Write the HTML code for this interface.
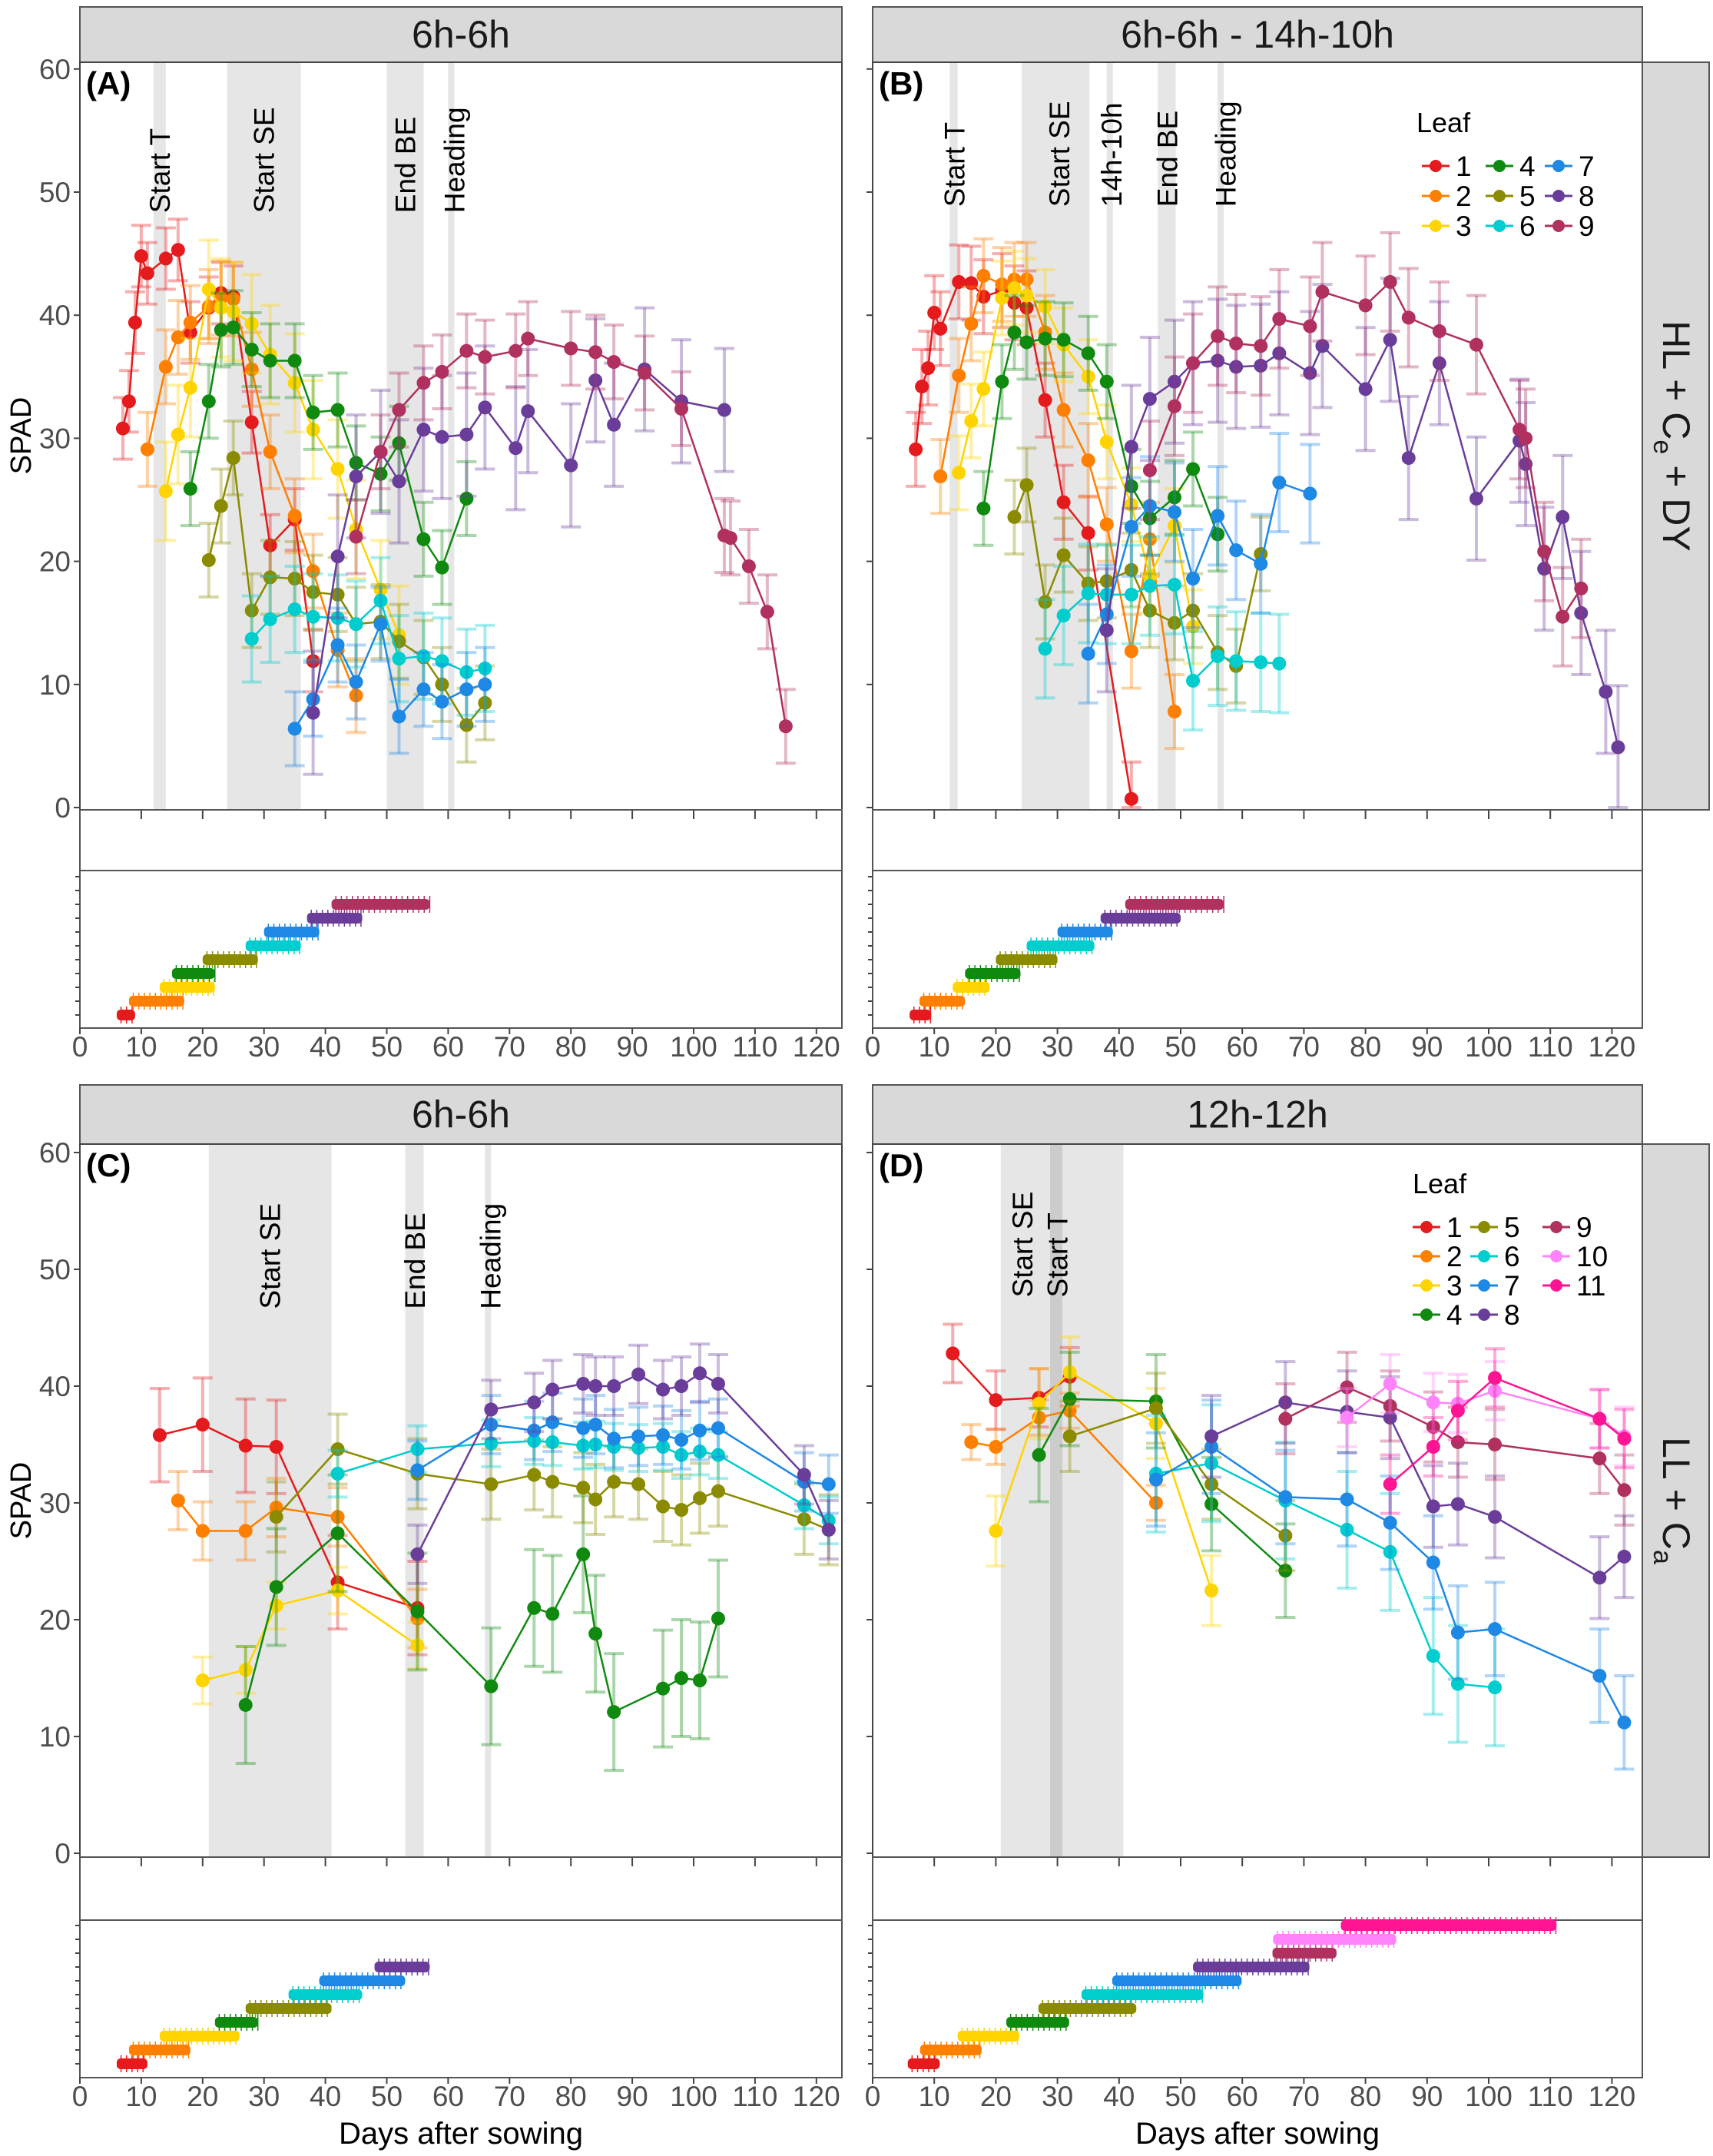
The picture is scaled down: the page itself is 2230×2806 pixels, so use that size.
<!DOCTYPE html>
<html><head><meta charset="utf-8"><style>
html,body{margin:0;padding:0;background:#fff;}
svg{display:block;font-family:"Liberation Sans",sans-serif;}
</style></head><body>
<svg id="chart" width="2230" height="2806" viewBox="0 0 2230 2806" xmlns="http://www.w3.org/2000/svg"></svg>
<script>
// ---------- DATA ----------
const aDays = [
 [7,8,9,10,11,14,16,18,21,23,25,28,31,35,38],
 [11,14,16,18,21,23,25,28,31,35,38,42,45],
 [14,16,18,21,23,25,28,31,35,38,42,45,49,52],
 [18,21,23,25,28,31,35,38,42,45,49,52,56,59,63],
 [21,23,25,28,31,35,38,42,45,49,52,56,59,63,66],
 [28,31,35,38,42,45,49,52,56,59,63,66],
 [35,38,42,45,49,52,56,59,63,66],
 [38,42,45,49,52,56,59,63,66,71,73,80,84,87,92,98,105],
 [45,49,52,56,59,63,66,71,73,80,84,87,92,98,105,106,109,112,115]
];
const aVals = [
 [30.8,33,39.4,44.8,43.4,44.6,45.3,38.6,40.6,41.8,41.5,31.3,21.3,23.4,11.9],
 [29.1,35.8,38.2,39.4,40.7,41.4,41.3,35.6,28.9,23.7,19.2,12.8,9.1],
 [25.7,30.3,34.1,42.1,40.6,40.3,39.3,36.8,34.5,30.7,27.5,22.6,17.7,14],
 [25.9,33,38.8,39,37.2,36.3,36.3,32.1,32.3,28,27.1,29.6,21.8,19.5,25.1],
 [20.1,24.5,28.4,16,18.7,18.6,17.5,17.3,14.9,15.1,13.5,12.2,10,6.7,8.5],
 [13.7,15.3,16.1,15.5,15.4,14.9,16.8,12.1,12.3,11.9,11,11.3],
 [6.4,8.8,13.2,10.2,14.9,7.4,9.6,8.6,9.6,10],
 [7.7,20.4,26.9,28.9,26.5,30.7,30.1,30.3,32.5,29.2,32.2,27.8,34.7,31.1,35.6,33,32.3],
 [22,28.9,32.3,34.5,35.4,37.1,36.6,37.1,38.1,37.3,37,36.2,35.3,32.4,22.1,21.9,19.6,15.9,6.6]
];
const aErr = [2.5,3,4,3,3,3.5,3,5,3];

const bDays = [
 [7,8,9,10,11,14,16,18,21,23,25,28,31,35,42],
 [11,14,16,18,21,23,25,28,31,35,38,42,45,49],
 [14,16,18,21,23,25,28,31,35,38,42,45,49,52],
 [18,21,23,25,28,31,35,38,42,45,49,52,56],
 [23,25,28,31,35,38,42,45,49,52,56,59,63],
 [28,31,35,38,42,45,49,52,56,59,63,66],
 [35,38,42,45,49,52,56,59,63,66,71],
 [38,42,45,49,52,56,59,63,66,71,73,80,84,87,92,98,105,106,109,112,115,119,121],
 [45,49,52,56,59,63,66,71,73,80,84,87,92,98,105,106,109,112,115]
];
const bVals = [
 [29.1,34.2,35.7,40.2,38.9,42.7,42.6,41.5,42,41,40.6,33.1,24.8,22.3,0.7],
 [26.9,35.1,39.3,43.2,42.5,42.9,42.9,38.6,32.3,28.2,23,12.7,21.8,7.8],
 [27.2,31.4,34,41.4,42.2,41.6,40.7,37.6,35,29.7,24.6,18.8,22.9,14.7],
 [24.3,34.6,38.6,37.8,38.1,38,36.9,34.6,26.1,23.5,25.2,27.5,22.2],
 [23.6,26.2,16.7,20.5,18.2,18.4,19.3,16,15,16,12.6,11.5,20.6],
 [12.9,15.6,17.4,17.3,17.3,18,18.1,10.3,12.3,11.9,11.8,11.7],
 [12.5,15.7,22.8,24.5,24,18.6,23.7,20.9,19.8,26.4,25.5],
 [14.4,29.3,33.2,34.6,36.1,36.3,35.8,35.9,36.9,35.3,37.5,34,38,28.4,36.1,25.1,29.8,27.9,19.4,23.6,15.8,9.4,4.9],
 [27.4,32.6,36.1,38.3,37.7,37.5,39.7,39.1,41.9,40.8,42.7,39.8,38.7,37.6,30.7,30,20.8,15.5,17.8]
];
const bErr = [3,3,3,3,3,4,4,5,4];

const cDays = [
 [13,20,27,32,42,55],
 [16,20,27,32,42,55],
 [20,27,32,42,55],
 [27,32,42,55,67,74,77,82,84,87,95,98,101,104],
 [32,42,55,67,74,77,82,84,87,91,95,98,101,104,118,122],
 [42,55,67,74,77,82,84,87,91,95,98,101,104,118,122],
 [55,67,74,77,82,84,87,91,95,98,101,104,118,122],
 [55,67,74,77,82,84,87,91,95,98,101,104,118,122]
];
const cVals = [
 [35.8,36.7,34.9,34.8,23.2,21],
 [30.2,27.6,27.6,29.6,28.8,20.1],
 [14.8,15.7,21.2,22.5,17.8],
 [12.7,22.8,27.4,20.7,14.3,21,20.5,25.6,18.8,12.1,14.1,15,14.8,20.1],
 [28.8,34.6,32.5,31.6,32.4,31.8,31.3,30.3,31.8,31.6,29.7,29.4,30.4,31,28.6,27.7],
 [32.5,34.6,35.1,35.3,35.2,34.9,35,34.8,34.7,34.8,34.1,34.4,34.1,29.8,28.5],
 [32.8,36.7,36.2,36.9,36.4,36.7,35.5,35.7,35.8,35.4,36.2,36.4,31.8,31.6],
 [25.6,38,38.6,39.7,40.2,40,40,41,39.7,40,41.1,40.2,32.4,27.7]
];
const cErr = [4,2.5,2,5,3,2,2.5,2.5];

const dDays = [
 [13,20,27,32],
 [16,20,27,32,46],
 [20,27,32,46,55],
 [27,32,46,55,67],
 [32,46,55,67],
 [46,55,67,77,84,91,95,101],
 [46,55,67,77,84,91,95,101,118,122],
 [55,67,77,84,91,95,101,118,122],
 [67,77,84,91,95,101,118,122],
 [77,84,91,95,101,118,122],
 [84,91,95,101,118,122]
];
const dVals = [
 [42.8,38.8,39,40.8],
 [35.2,34.8,37.3,37.9,30],
 [27.6,38.5,41.2,36.8,22.5],
 [34.1,38.9,38.7,29.9,24.2],
 [35.7,38.1,31.6,27.2],
 [32.5,33.4,30.2,27.7,25.8,16.9,14.5,14.2],
 [32,34.8,30.5,30.3,28.3,24.9,18.9,19.2,15.2,11.2],
 [35.7,38.6,37.8,37.3,29.7,29.9,28.8,23.6,25.4],
 [37.2,39.9,38.3,36.5,35.2,35,33.8,31.1],
 [37.3,40.2,38.6,38.5,39.6,37.2,35.7],
 [31.6,34.8,37.9,40.7,37.2,35.5]
];
const dErr = [2.5,1.5,3,4,3,5,4,3.5,3,2.5,2.5];

const aGS = [6,8,13,15,20,27,30,37,41], aGE = [9,17,22,22,29,36,39,46,57];
const bGS = [6,7.6,13,15,20,25,30,37,41], bGE = [9.5,15,19,24,30,36,39,50,57];
const cGS = [6,8,13,22,27,34,39,48], cGE = [11,18,26,29,41,46,53,57];
const dGS = [5.7,7.7,13.8,21.7,26.9,33.9,38.9,52,64.9,65,76], dGE = [10.9,17.7,23.8,31.9,42.8,53.7,59.9,70.9,75.3,85,111];

const aBands = [[12,14],[24,36],[50,56],[60,61]];
const bBands = [[12.5,13.8],[24.2,35.2],[38,39],[46.3,49.2],[56,57]];
const cBands = [[21,41],[53,56],[66,67]];
const dBands = [[20.8,40.7],[28.8,30.8]];
const aLabels = ['Start T','Start SE','End BE','Heading'], aLabelX = [13,30,53,61];
const bLabels = ['Start T','Start SE','14h-10h','End BE','Heading'], bLabelX = [13.3,30.3,38.8,47.8,57.3];
const cLabels = ['Start SE','End BE','Heading'], cLabelX = [31,54.6,66.9];
const dLabels = ['Start SE','Start T'], dLabelX = [24.3,30];
const xTicks = [0,10,20,30,40,50,60,70,80,90,100,110,120];
const yTicks = [0,10,20,30,40,50,60];

// ---------- DRAW ----------
const COLORS = ['#e41a1c','#ff7f00','#ffd400','#0f8a0f','#8b8b00','#00cdcd','#1e88e5','#6a3d9a','#b03060','#ff83fa','#ff1493'];
const svg = document.getElementById('chart');
const NS = 'http://www.w3.org/2000/svg';
function el(tag, attrs, parent, text){
  const e = document.createElementNS(NS, tag);
  for (const k in attrs) e.setAttribute(k, attrs[k]);
  if (text !== undefined) e.textContent = text;
  (parent || svg).appendChild(e);
  return e;
}

const panels = [
 {id:'a', x0:104, x1:1096, ppd:7.99, top:81, bot:1054, y0:1051, ppu:16.02, stripTop:9, title:'6h-6h', tag:'(A)', days:aDays, vals:aVals, err:aErr, gs:aGS, ge:aGE, bands:aBands, labels:aLabels, labelX:aLabelX, labelV:48.3, dark:-1, yLabels:true, emptyBot:1133, ganttBot:1338, row1:1321, tickY:1375},
 {id:'b', x0:1136, x1:2138, ppd:8.02, top:81, bot:1054, y0:1051, ppu:16.02, stripTop:9, title:'6h-6h - 14h-10h', tag:'(B)', days:bDays, vals:bVals, err:bErr, gs:bGS, ge:bGE, bands:bBands, labels:bLabels, labelX:bLabelX, labelV:48.8, dark:-1, yLabels:false, emptyBot:1133, ganttBot:1338, row1:1321, tickY:1375},
 {id:'c', x0:104, x1:1096, ppd:7.99, top:1489, bot:2417, y0:2412, ppu:15.2, stripTop:1412, title:'6h-6h', tag:'(C)', days:cDays, vals:cVals, err:cErr, gs:cGS, ge:cGE, bands:cBands, labels:cLabels, labelX:cLabelX, labelV:46.6, dark:-1, yLabels:true, emptyBot:2499, ganttBot:2704, row1:2686, tickY:2741},
 {id:'d', x0:1136, x1:2138, ppd:8.02, top:1489, bot:2417, y0:2412, ppu:15.2, stripTop:1412, title:'12h-12h', tag:'(D)', days:dDays, vals:dVals, err:dErr, gs:dGS, ge:dGE, bands:dBands, labels:dLabels, labelX:dLabelX, labelV:47.6, dark:1, yLabels:false, emptyBot:2499, ganttBot:2704, row1:2686, tickY:2741}
];

panels.forEach(p => {
  const X = d => p.x0 + d * p.ppd;
  const Y = v => p.y0 - v * p.ppu;
  const g = el('g', {});
  
  
  // strip
  const st = el('rect', {x:p.x0, y:p.stripTop, width:p.x1-p.x0, height:p.top-p.stripTop, fill:'#d9d9d9', stroke:'#555', 'stroke-width':2}, g);
  
  
  const stt = el('text', {x:(p.x0+p.x1)/2, y:(p.stripTop+p.top)/2+17, 'text-anchor':'middle', 'font-size':50, fill:'#1a1a1a'}, g, p.title);
  
  
  // plot bg
  el('rect', {x:p.x0, y:p.top, width:p.x1-p.x0, height:p.bot-p.top, fill:'#fff'}, g);
  // bands
  p.bands.forEach((b, i) => {
    const r = el('rect', {x:X(b[0]), y:p.top, width:X(b[1])-X(b[0]), height:p.bot-p.top, fill: (i===p.dark ? '#cccccc' : '#e6e6e6')}, g);
    
    
  });
  // band labels
  p.labels.forEach((t, i) => {
    const x = X(p.labelX[i]) + 13, y = Y(p.labelV);
    const tx = el('text', {x:x, y:y, transform:'rotate(-90 '+x+' '+y+')', 'font-size':37, fill:'#000'}, g, t);
    
    
  });
  // series
  p.days.forEach((ds, s) => {
    const col = COLORS[s];
    const sg = el('g', {}, g);
    
    
    ds.forEach((d, k) => {
      const v = p.vals[s][k], e = p.err[s];
      const x = X(d);
      el('line', {x1:x, x2:x, y1:Y(v+e), y2:Y(Math.max(0,v-e)), stroke:col, 'stroke-width':4, 'stroke-opacity':0.35}, sg);
      el('line', {x1:x-13, x2:x+13, y1:Y(v+e), y2:Y(v+e), stroke:col, 'stroke-width':4, 'stroke-opacity':0.35}, sg);
      el('line', {x1:x-13, x2:x+13, y1:Y(Math.max(0,v-e)), y2:Y(Math.max(0,v-e)), stroke:col, 'stroke-width':4, 'stroke-opacity':0.35}, sg);
    });
    const pts = ds.map((d, k) => X(d).toFixed(1) + ',' + Y(p.vals[s][k]).toFixed(1)).join(' ');
    const pl = el('polyline', {points:pts, fill:'none', stroke:col, 'stroke-width':2.5}, sg);
    
    
    ds.forEach((d, k) => {
      const c = el('circle', {cx:X(d), cy:Y(p.vals[s][k]), r:9, fill:col}, sg);
      
      
    });
  });
  // border
  el('rect', {x:p.x0, y:p.top, width:p.x1-p.x0, height:p.bot-p.top, fill:'none', stroke:'#444', 'stroke-width':2}, g);
  // tag
  const tg = el('text', {x:p.x0+8, y:p.top+42, 'font-size':42, 'font-weight':'bold', fill:'#000'}, g, p.tag);
  
  
  // y ticks
  yTicks.forEach(v => {
    el('line', {x1:p.x0-8, x2:p.x0, y1:Y(v), y2:Y(v), stroke:'#444', 'stroke-width':2}, g);
    if (p.yLabels) {
      const t = el('text', {x:p.x0-12, y:Y(v)+13, 'text-anchor':'end', 'font-size':37, fill:'#4d4d4d'}, g, String(v));
      
      
    }
  });
  // x ticks on main plot bottom
  xTicks.forEach(d => el('line', {x1:X(d), x2:X(d), y1:p.bot, y2:p.bot+12, stroke:'#444', 'stroke-width':2}, g));
  // empty box
  el('rect', {x:p.x0, y:p.bot, width:p.x1-p.x0, height:p.emptyBot-p.bot, fill:'none', stroke:'#555', 'stroke-width':2}, g);
  // gantt box
  const gb = el('rect', {x:p.x0, y:p.emptyBot, width:p.x1-p.x0, height:p.ganttBot-p.emptyBot, fill:'#fff', stroke:'#555', 'stroke-width':2}, g);
  
  
  for (let i = 0; i < 11; i++) {
    const yy = p.row1 - i*18;
    if (yy > p.emptyBot) el('line', {x1:p.x0-6, x2:p.x0, y1:yy, y2:yy, stroke:'#444', 'stroke-width':2}, g);
  }
  p.gs.forEach((s, i) => {
    const yy = p.row1 - i*18;
    const r = el('rect', {x:X(s), y:yy-7, width:X(p.ge[i])-X(s), height:14, rx:5, fill:COLORS[i]}, g);
    
    
    for (let d = s + 0.7; d < p.ge[i]; d += 0.9) {
      el('line', {x1:X(d), x2:X(d), y1:yy-11, y2:yy+11, stroke:COLORS[i], 'stroke-width':1.5}, g);
    }
  });
  xTicks.forEach(d => {
    el('line', {x1:X(d), x2:X(d), y1:p.ganttBot, y2:p.ganttBot+8, stroke:'#444', 'stroke-width':2}, g);
    const t = el('text', {x:X(d), y:p.tickY, 'text-anchor':'middle', 'font-size':37, fill:'#4d4d4d'}, g, String(d));
    
    
  });
});

// right strips
[[81,1054,'HL + C','e',' + DY'],[1489,2417,'LL + C','a','']].forEach((r, i) => {
  const rs = el('rect', {x:2138, y:r[0], width:87, height:r[1]-r[0], fill:'#d9d9d9', stroke:'#555', 'stroke-width':2});
  
  
  const cx = 2165, cy = (r[0]+r[1])/2;
  const t = el('text', {x:cx, y:cy, transform:'rotate(90 '+cx+' '+cy+')', 'text-anchor':'middle', 'font-size':50, fill:'#1a1a1a'});
  
  
  el('tspan', {}, t, r[2]);
  el('tspan', {'font-size':34, dy:12}, t, r[3]);
  el('tspan', {dy:-12}, t, r[4]);
});

// axis titles
[[567],[1953]].forEach(r => {
  const t = el('text', {x:40, y:r[0], transform:'rotate(-90 40 '+r[0]+')', 'text-anchor':'middle', 'font-size':38, fill:'#000'}, svg, 'SPAD');
  
  
});
[600,1637].forEach(x => {
  const t = el('text', {x:x, y:2790, 'text-anchor':'middle', 'font-size':40, fill:'#000'}, svg, 'Days after sowing');
  
  
});

// legends
function legend(x, y, cols, rowH, colX, name){
  const lg = el('g', {});
  
  
  el('text', {x:x, y:y, 'font-size':36, fill:'#000'}, lg, 'Leaf');
  let n = 0;
  cols.forEach((c, ci) => {
    for (let k = 0; k < c; k++) {
      const cy = y + 44 + k*rowH, mx = x + colX[ci];
      const e = el('g', {}, lg);
      
      
      el('line', {x1:mx-18, x2:mx+18, y1:cy, y2:cy, stroke:COLORS[n], 'stroke-width':3}, e);
      el('circle', {cx:mx, cy:cy, r:8, fill:COLORS[n]}, e);
      el('text', {x:mx+26, y:cy+13, 'font-size':37, fill:'#000'}, e, String(n+1));
      n++;
    }
  });
}
legend(1844, 172, [3,3,3], 39, [25,108,185], 'legend-b');
legend(1839, 1553, [4,4,3], 38, [18,93,187], 'legend-d');
</script>
</body></html>
